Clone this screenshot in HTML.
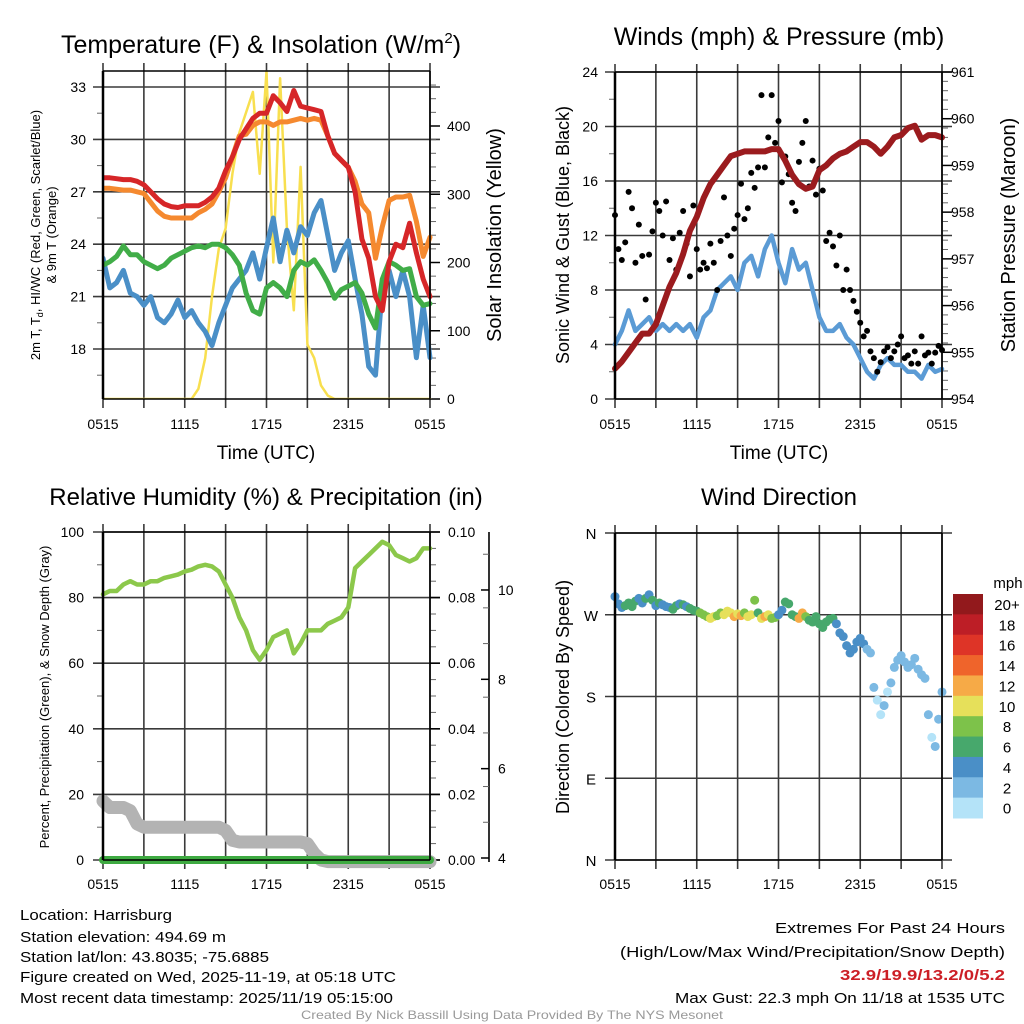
<!DOCTYPE html>
<html><head><meta charset="utf-8"><style>
html,body{margin:0;padding:0;background:#fff;}
svg{display:block;font-family:"Liberation Sans",sans-serif;}
</style></head><body>
<svg id="s" width="1024" height="1024" viewBox="0 0 1024 1024" xmlns="http://www.w3.org/2000/svg"></svg>
<script>
// ---- data (every 0.5 h from 0515 UTC) ----
const hourLabels = ["0515","1115","1715","2315","0515"];
const tempRed = [27.8,27.8,27.75,27.7,27.7,27.6,27.4,27.0,26.6,26.3,26.15,26.1,26.2,26.2,26.2,26.4,26.7,27.2,28.2,29.0,30.0,30.6,31.2,31.5,31.5,32.5,32.1,31.6,32.8,31.9,31.8,31.7,31.6,30.2,29.2,28.8,28.4,27.0,24.3,23.2,21.0,20.2,23.0,24.0,23.8,25.2,23.5,22.0,21.0];
const temp9m = [27.2,27.2,27.15,27.1,27.1,27.0,26.9,26.4,25.9,25.6,25.5,25.5,25.5,25.5,25.8,26.0,26.3,27.0,27.8,29.0,30.2,30.3,30.8,31.0,31.0,30.8,31.0,31.0,31.1,31.2,31.1,31.2,31.1,30.2,29.2,28.8,28.4,27.6,26.3,25.8,23.2,25.0,26.5,26.7,26.7,26.8,25.3,23.3,24.4];
const hiwc = [22.8,23.0,23.3,23.9,23.4,23.4,23.0,22.8,22.6,22.8,23.2,23.4,23.6,23.8,23.9,23.8,24.0,24.0,23.8,23.4,22.8,21.2,20.2,20.0,21.5,21.8,21.5,21.0,22.5,23.0,22.8,23.1,22.5,21.8,20.9,21.4,21.6,21.8,21.2,20.0,19.2,22.0,23.0,22.8,22.5,22.6,21.0,20.5,20.6];
const dewpt = [23.2,21.5,21.8,22.5,21.2,21.0,20.5,21.0,19.8,19.5,20.0,20.8,19.8,20.2,19.5,19.0,18.2,19.5,20.5,21.5,22.0,22.5,23.5,22.0,23.8,25.5,23.0,24.8,23.5,25.0,24.5,25.8,26.5,24.5,22.5,23.5,24.2,22.0,20.0,17.0,16.5,21.5,22.5,21.0,22.5,21.0,17.5,20.5,17.5];
const solar = [0,0,0,0,0,0,0,0,0,0,0,0,0,0,15,60,150,220,250,330,390,420,450,330,480,200,470,250,130,340,80,60,20,5,0,0,0,0,0,0,0,0,0,0,0,0,0,0,0];
const windSpd = [4.0,5.0,6.5,5.0,5.5,6.0,5.0,5.5,5.0,5.5,5.0,5.5,4.5,6.0,6.5,8.0,8.5,9.0,8.0,10.0,10.5,9.0,11.0,12.0,10.0,8.5,11.0,9.5,10.0,8.0,6.0,5.0,5.0,5.5,4.5,4.0,3.0,2.0,1.5,2.5,3.0,2.5,2.5,2.0,2.0,1.5,2.5,2.0,2.2];
const pressure = [954.65,954.8,955.0,955.2,955.4,955.4,955.6,956.0,956.4,956.7,957.1,957.6,957.9,958.3,958.6,958.8,959.0,959.2,959.25,959.3,959.3,959.3,959.3,959.35,959.35,959.1,958.8,958.6,958.5,958.55,958.9,959.0,959.15,959.25,959.3,959.4,959.5,959.5,959.4,959.25,959.4,959.6,959.65,959.8,959.85,959.55,959.65,959.65,959.6];
const rh = [81,82,82,84,85,84,84,85,85,86,86.5,87,88,88.5,89.5,90,89.5,88,84,80,74,70,64,61,64,68,69,70,63,66,70,70,70,72,73,74,77,89,91,93,95,97,96,93,92,91,92,95,95];
const snow = [18,16,16,16,15,11,10,10,10,10,10,10,10,10,10,10,10,10,9,6,5.5,5.5,5.5,5.5,5.5,5.5,5.5,5.5,5.5,5.5,5,2,0,-0.5,-0.5,-0.5,-0.5,-0.5,-0.5,-0.5,-0.5,-0.5,-0.5,-0.5,-0.5,-0.5,-0.5,-0.5,-0.5];
const precip = [0,0,0,0,0,0,0,0,0,0,0,0,0,0,0,0,0,0,0,0,0,0,0,0,0,0,0,0,0,0,0,0,0,0,0,0,0,0,0,0,0,0,0,0,0,0,0,0,0];
// every 0.25 h
const gust = [13.5,11.0,10.2,11.5,15.2,14.0,10.0,12.8,10.5,7.3,10.6,12.3,14.4,13.8,12.0,14.5,10.2,11.8,9.5,12.2,13.8,11.4,9.0,14.2,11.0,9.5,10.0,9.6,11.4,10.0,8.0,11.6,14.8,12.0,10.5,12.5,13.5,15.8,13.2,14.0,16.6,15.5,17.0,22.3,17.0,19.2,22.3,18.8,20.4,15.9,17.8,16.5,14.4,13.8,17.4,18.8,20.4,15.6,17.5,15.0,16.9,15.3,11.6,12.2,11.2,9.8,12.0,8.0,9.5,8.0,7.2,6.4,5.6,4.6,5.0,3.5,3.0,2.0,2.7,3.5,3.8,3.0,3.5,4.0,4.6,3.0,3.2,2.6,3.5,2.6,4.6,3.2,3.4,2.6,3.4,3.9,3.6];
const windDir = [290,282,278,280,283,279,285,288,283,288,292,286,280,283,281,279,278,276,280,282,281,279,277,275,274,272,270,268,266,268,269,272,270,274,272,268,271,269,272,268,270,286,272,266,268,270,266,267,270,275,284,282,270,268,266,272,268,264,262,268,260,256,262,265,266,260,250,246,236,228,232,240,244,238,232,228,190,176,160,170,185,195,212,220,225,218,212,215,222,210,204,200,160,135,125,155,185];
const dirSpd = [4,5,4,6,6,7,6,4,4,6,5,6,4,6,5,4,5,6,6,5,6,5,6,7,7,8,8,9,10,10,9,8,10,10,11,12,10,12,9,10,11,8,6,10,12,11,8,9,4,5,6,6,6,7,12,13,8,7,6,7,6,6,7,7,6,5,4,4,4,4,4,4,4,4,3,3,2,1,1,2,1,2,2,2,2,2,2,2,2,2,2,2,2,1,2,2,3];
const legendLabels = ["20+","18","16","14","12","10","8","6","4","2","0"];
const legendColors = ["#92191c","#bd1e26","#de3427","#ef642b","#f6aa47","#e6e05a","#7dc24a","#47a86c","#4a8fc7","#7cb9e3","#b4e3f8"];

const NS="http://www.w3.org/2000/svg";
const svg=document.getElementById('s');
function mk(tag,attrs,parent){const e=document.createElementNS(NS,tag);for(const k in attrs)e.setAttribute(k,attrs[k]);(parent||svg).appendChild(e);return e;}
function txt(s,x,y,size,anchor,parent,extra){const e=mk('text',Object.assign({x:x,y:y,'font-size':size,'text-anchor':anchor||'middle',fill:'#000'},extra||{}),parent);e.textContent=s;return e;}

function timeAxis(g,x0,x1,y0,y1){
  const xs=h=>x0+h*(x1-x0)/24;
  for(let h=0;h<=24;h+=3){
    const l=mk('line',{x1:xs(h),x2:xs(h),y1:y0-8,y2:y1+9,stroke:'#3a3a3a','stroke-width':1.6},g);
    
    
  }
  hourLabels.forEach((s,i)=>{
    const t=txt(s,xs(i*6),429,14,'middle',g);
    
    
  });
  return xs;
}
function hGrid(g,x0,x1,ys){ys.forEach(y=>{const l=mk('line',{x1:x0-10,x2:x1+10,y1:y,y2:y,stroke:'#3a3a3a','stroke-width':1.6},g);});}
function minorTicks(g,x,ys,dir){ys.forEach(y=>{const l=mk('line',{x1:x,x2:x+dir*6,y1:y,y2:y,stroke:'#666','stroke-width':1},g);});}
function frame(g,x0,x1,y0,y1){mk('line',{x1:x0,x2:x0,y1:y0,y2:y1,stroke:'#000','stroke-width':2.5},g);mk('line',{x1:x1,x2:x1,y1:y0,y2:y1,stroke:'#000','stroke-width':1.6},g);mk('line',{x1:x0,x2:x1,y1:y0,y2:y0,stroke:'#000','stroke-width':1.6},g);mk('line',{x1:x0,x2:x1,y1:y1,y2:y1,stroke:'#000','stroke-width':1.6},g);}
function line(g,arr,step,xs,ys,color,w,name){
  const d=arr.map((v,i)=>(i?'L':'M')+xs(i*step).toFixed(1)+','+ys(v).toFixed(1)).join('');
  const p=mk('path',{d:d,fill:'none',stroke:color,'stroke-width':w,'stroke-linejoin':'round','stroke-linecap':'round'},g);
  
  
  return p;
}

// ===== Panel 1: Temperature =====
{
const g=mk('g',{});


const x0=103,x1=430,y0=71,y1=399;
const yL=v=>87+(33-v)*262/15, yR=v=>399-v*0.6825;
const t=txt('Temperature (F) & Insolation (W/m',261,53,25,'middle',g);


const ts=mk('tspan',{'font-size':15,dy:-10},t);ts.textContent='2';
const ts2=mk('tspan',{dy:10},t);ts2.textContent=')';
const xs=timeAxis(g,x0,x1,y0,y1);
hGrid(g,x0,x1,[18,21,24,27,30,33].map(yL));
minorTicks(g,x0,[16.5,19.5,22.5,25.5,28.5,31.5].map(yL),-1);
[18,21,24,27,30,33].forEach(v=>{const e=txt(String(v),86,yL(v)+5,14,'end',g);});
minorTicks(g,x1,[20,40,60,80,120,140,160,180,220,240,260,280,320,340,360,380,420,440,460].map(yR),1);
[0,100,200,300,400].forEach(v=>{mk('line',{x1:x1,x2:x1+10,y1:yR(v),y2:yR(v),stroke:'#000','stroke-width':1.5},g);const e=txt(String(v),447,yR(v)+5,14,'start',g);});
const clip=mk('clipPath',{id:'c1'},g);mk('rect',{x:x0,y:y0-12,width:x1-x0+4,height:y1-y0+12},clip);
const pg=mk('g',{'clip-path':'url(#c1)'},g);
line(pg,solar,0.5,xs,yR,'#f8df4f',2.5,'solar-line');
line(pg,dewpt,0.5,xs,yL,'#4a8fc7',5,'dewpoint-line');
line(pg,hiwc,0.5,xs,yL,'#41ad48',5,'hiwc-line');
line(pg,temp9m,0.5,xs,yL,'#f5892f',5,'temp-9m-line');
line(pg,tempRed,0.5,xs,yL,'#d62628',5,'temp-2m-line');
frame(g,x0,x1,y0,y1);
const a=txt('2m T, T',0,0,13,'middle',g,{transform:'translate(40,235) rotate(-90)'});


const sub=mk('tspan',{'font-size':9,dy:3},a);sub.textContent='d';
const rest=mk('tspan',{dy:-3},a);rest.textContent=', HI/WC (Red, Green, Scarlet/Blue)';
const a2=txt('& 9m T (Orange)',0,0,13,'middle',g,{transform:'translate(56,235) rotate(-90)'});


const r=txt('Solar Insolation (Yellow)',0,0,20,'middle',g,{transform:'translate(501,235) rotate(-90)'});


const xt=txt('Time (UTC)',266,459,19,'middle',g);


}

// ===== Panel 2: Winds =====
{
const g=mk('g',{});


const x0=615,x1=942,y0=72,y1=399;
const yL=v=>399-v*327/24, yR=p=>399-(p-954)*327/7;
const t=txt('Winds (mph) & Pressure (mb)',779,45,25,'middle',g);


const xs=timeAxis(g,x0,x1,y0,y1);
hGrid(g,x0,x1,[0,4,8,12,16,20,24].map(yL));
minorTicks(g,x0,[2,6,10,14,18,22].map(yL),-1);
[0,4,8,12,16,20,24].forEach(v=>{const e=txt(String(v),598,yL(v)+5,14,'end',g);});
const mt=[];for(let p=954.2;p<961;p+=0.2){if(Math.abs(p-Math.round(p))>0.05)mt.push(yR(p));}
minorTicks(g,x1,mt,1);
[954,955,956,957,958,959,960,961].forEach(v=>{mk('line',{x1:x1,x2:x1+10,y1:yR(v),y2:yR(v),stroke:'#000','stroke-width':1.5},g);const e=txt(String(v),951,yR(v)+5,14,'start',g);});
line(g,windSpd,0.5,xs,yL,'#5b9bd5',4.5,'sonic-wind-line');
gust.forEach((v,i)=>{const c=mk('circle',{cx:xs(i*0.25),cy:yL(v),r:3,fill:'#000'},g);});
line(g,pressure,0.5,xs,yR,'#9b1b1e',6,'pressure-line');
frame(g,x0,x1,y0,y1);
const a=txt('Sonic Wind & Gust (Blue, Black)',0,0,18,'middle',g,{transform:'translate(569,235) rotate(-90)'});


const r=txt('Station Pressure (Maroon)',0,0,20,'middle',g,{transform:'translate(1015,235) rotate(-90)'});


const xt=txt('Time (UTC)',779,459,19,'middle',g);


}

// ===== Panel 3: RH =====
{
const g=mk('g',{});


const x0=103,x1=430,y0=532,y1=860;
const yL=v=>860-v*3.28, yR=p=>860-p*3280, yS=s=>858-(s-4)*44.67;
const t=txt('Relative Humidity (%) & Precipitation (in)',266,505,24,'middle',g);


const xs=timeAxis(g,x0,x1,y0,y1);
g.querySelectorAll('text').forEach(e=>{if(e.textContent.length===4&&/^\d+$/.test(e.textContent))e.setAttribute('y',889);});
hGrid(g,x0,x1,[0,20,40,60,80,100].map(yL));
minorTicks(g,x0,[10,30,50,70,90].map(yL),-1);
[0,20,40,60,80,100].forEach(v=>{const e=txt(String(v),84,yL(v)+5,14,'end',g);});
const mt=[];for(let k=1;k<20;k++){if(k%4)mt.push(yR(k*0.005));}
minorTicks(g,x1,mt,1);
[0,0.02,0.04,0.06,0.08,0.10].forEach(v=>{mk('line',{x1:x1,x2:x1+10,y1:yR(v),y2:yR(v),stroke:'#000','stroke-width':1.5},g);const e=txt(v.toFixed(2),448,yR(v)+5,14,'start',g);});
mk('line',{x1:489,x2:489,y1:532,y2:862,stroke:'#000','stroke-width':1.6},g);
[4,6,8,10].forEach(v=>{mk('line',{x1:489,x2:481,y1:yS(v),y2:yS(v),stroke:'#000','stroke-width':1.5},g);const e=txt(String(v),498,yS(v)+5,14,'start',g);});
minorTicks(g,489,[4.8,5.6,6.8,7.6,8.8,9.6,10.8].map(yS),-1);
line(g,snow,0.5,xs,yL,'#b3b3b3',13,'snow-depth-line');
line(g,rh,0.5,xs,yL,'#8cc84b',4.5,'humidity-line');
line(g,precip,0.5,xs,yR,'#3eaa41',8,'precipitation-line');
frame(g,x0,x1,y0,y1);
const a=txt('Percent, Precipitation (Green), & Snow Depth (Gray)',0,0,13,'middle',g,{transform:'translate(49,697) rotate(-90)'});


}

// ===== Panel 4: Wind direction =====
{
const g=mk('g',{});


const x0=615,x1=942,y0=533,y1=860;
const yD=d=>860-d*327/360;
const t=txt('Wind Direction',779,505,24,'middle',g);


const xs=timeAxis(g,x0,x1,y0,y1);
g.querySelectorAll('text').forEach(e=>{if(/^\d{4}$/.test(e.textContent))e.setAttribute('y',889);});
hGrid(g,x0,x1,[0,90,180,270,360].map(yD));
[['N',360],['W',270],['S',180],['E',90],['N',0]].forEach(p=>{const e=txt(p[0],591,yD(p[1])+6,15,'middle',g);});
windDir.forEach((d,i)=>{
  const bin=Math.min(10,Math.floor(dirSpd[i]/2));
  const c=mk('circle',{cx:xs(i*0.25),cy:yD(d),r:4.5,fill:legendColors[10-bin]},g);
  
  
});
frame(g,x0,x1,y0,y1);
const a=txt('Direction (Colored By Speed)',0,0,18,'middle',g,{transform:'translate(569,697) rotate(-90)'});


const lg=mk('g',{},g);


const mph=txt('mph',1008,588,15,'middle',lg);


legendLabels.forEach((s,i)=>{
  const y=594+i*224/11;
  const r=mk('rect',{x:953,y:y,width:30,height:224/11+0.5,fill:legendColors[i]},lg);
  
  
  const e=txt(s,1007,y+16,15,'middle',lg);
  
  
});
}

// ===== Footer text =====
{
const g=mk('g',{});


const left=[['Location: Harrisburg',920,152],['Station elevation: 494.69 m',942,206],['Station lat/lon: 43.8035; -75.6885',962,249],['Figure created on Wed, 2025-11-19, at 05:18 UTC',982,376],['Most recent data timestamp: 2025/11/19 05:15:00',1003,373]];
left.forEach(l=>{const e=txt(l[0],20,l[1],15,'start',g,{textLength:l[2],lengthAdjust:'spacingAndGlyphs'});});
const right=[['Extremes For Past 24 Hours',933,230,'#000'],['(High/Low/Max Wind/Precipitation/Snow Depth)',957,385,'#000'],['32.9/19.9/13.2/0/5.2',980,165,'#cc1f26'],['Max Gust: 22.3 mph On 11/18 at 1535 UTC',1003,330,'#000']];
right.forEach(l=>{const e=txt(l[0],1005,l[1],15,'end',g,{textLength:l[2],lengthAdjust:'spacingAndGlyphs',fill:l[3]});if(l[3]!=='#000')e.setAttribute('font-weight','bold');});
const c=txt('Created By Nick Bassill Using Data Provided By The NYS Mesonet',512,1019,12,'middle',g,{fill:'#999',textLength:422,lengthAdjust:'spacingAndGlyphs'});


}
</script>
</body></html>
